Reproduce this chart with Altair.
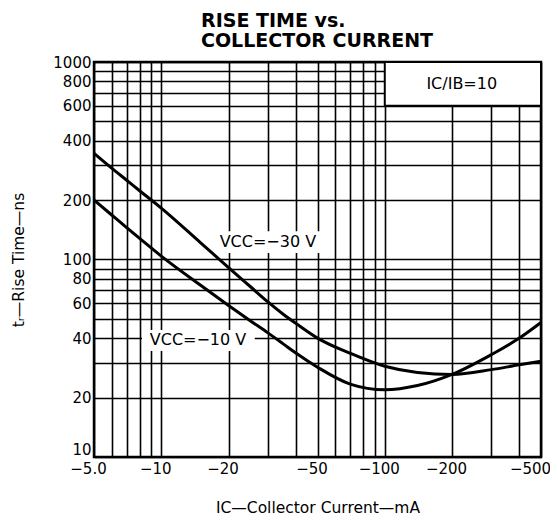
import altair as alt
import pandas as pd

# ---- data ----
current_ma = [5, 6, 7, 8, 10, 15, 20, 25, 30, 35, 40, 50, 70, 100, 140, 200, 300, 400, 500]
tr_vcc30 = [345, 290, 252, 223, 182, 121.5, 91, 73, 61, 53, 47.5, 40, 33.5, 28.8, 26.8, 26.2, 27.7, 29.3, 30.5]
tr_vcc10 = [200, 168, 145, 128, 104, 74, 58.5, 49, 42.5, 37.5, 33.6, 28.5, 23.4, 21.9, 23.0, 26.2, 33, 40, 48]

x_grid = [5, 6, 7, 8, 9, 10, 20, 30, 40, 50, 60, 70, 80, 90, 100, 200, 300, 400, 500]
x_label_values = [5, 10, 20, 50, 100, 200, 500]
x_label_texts = ["\u22125.0", "\u221210", "\u221220", "\u221250", "\u2212100", "\u2212200", "\u2212500"]

y_grid = [10, 20, 30, 40, 50, 60, 70, 80, 90, 100, 200, 300, 400, 500, 600, 700, 800, 900, 1000]
y_label_values = [10, 20, 40, 60, 80, 100, 200, 400, 600, 800, 1000]

# annotations (data-space anchors)
ann_text = ["VCC=\u221230 V", "VCC=\u221210 V", "IC/IB=10"]
ann_x = [30, 14.6, 221]
ann_y = [123, 39, 775]

# white backgrounds behind curve labels
bg_x1 = [16.9, 8.2]
bg_x2 = [53, 26.2]
bg_y1 = [108, 34.4]
bg_y2 = [139, 44]

# ratio box
box_x1 = [100]
box_x2 = [500]
box_y1 = [600]
box_y2 = [1000]

# ---- tables ----
curves = pd.DataFrame(
    {
        "current": current_ma * 2,
        "tr": tr_vcc30 + tr_vcc10,
        "series": ["-30"] * len(current_ma) + ["-10"] * len(current_ma),
    }
)
ann = pd.DataFrame({"label": ann_text, "tx": ann_x, "ty": ann_y})
bgs = pd.DataFrame({"x1": bg_x1, "x2": bg_x2, "y1": bg_y1, "y2": bg_y2})
box = pd.DataFrame({"x1": box_x1, "x2": box_x2, "y1": box_y1, "y2": box_y2})

FONT = "DejaVu Sans"

x_expr = " : ".join(
    f"datum.value == {v} ? '{t}'" for v, t in zip(x_label_values, x_label_texts)
) + " : ''"
y_expr = (
    "indexof([" + ",".join(str(v) for v in y_label_values) + "], datum.value) >= 0 ? format(datum.value, 'd') : ''"
)

xscale = alt.Scale(type="log", domain=[5, 500], nice=False)
yscale = alt.Scale(type="log", domain=[10, 1000], nice=False)

xaxis = alt.Axis(
    values=x_grid,
    labelExpr=x_expr,
    title="IC\u2014Collector Current\u2014mA",
    titleFont=FONT,
    titleFontSize=15.5,
    titleFontWeight="normal",
    titleColor="black",
    titlePadding=24,
    labelFont=FONT,
    labelFontSize=15,
    labelColor="black",
    labelPadding=4,
    labelOffset={"condition": {"test": "datum.value == 500", "value": -11}, "value": -6},
    labelFlush=False,
    labelOverlap=False,
    labelBound=False,
    ticks=False,
    domain=False,
    grid=True,
    gridColor="black",
    gridWidth=1.6,
    gridOpacity=1,
)
yaxis = alt.Axis(
    values=y_grid,
    labelExpr=y_expr,
    title="t\u1d63\u2014Rise Time\u2014ns",
    titleFont=FONT,
    titleFontSize=15.5,
    titleFontWeight="normal",
    titleColor="black",
    titlePadding=26,
    labelFont=FONT,
    labelFontSize=15,
    labelColor="black",
    labelPadding=3,
    labelBaseline={"condition": {"test": "datum.value == 10", "value": "bottom"}, "value": "middle"},
    labelFlush=False,
    labelOverlap=False,
    labelBound=False,
    ticks=False,
    domain=False,
    grid=True,
    gridColor="black",
    gridWidth=1.6,
    gridOpacity=1,
)

bg_layer = alt.Chart(bgs).mark_rect(fill="white", strokeWidth=0).encode(
    x=alt.X("x1:Q", scale=xscale, axis=xaxis),
    x2="x2:Q",
    y=alt.Y("y1:Q", scale=yscale, axis=yaxis),
    y2="y2:Q",
)

box_layer = alt.Chart(box).mark_rect(fill="white", stroke="black", strokeWidth=2).encode(
    x=alt.X("x1:Q", scale=xscale, axis=xaxis),
    x2="x2:Q",
    y=alt.Y("y1:Q", scale=yscale, axis=yaxis),
    y2="y2:Q",
)

line_layer = alt.Chart(curves).mark_line(
    interpolate="monotone", color="black", strokeWidth=3
).encode(
    x=alt.X("current:Q", scale=xscale, axis=xaxis),
    y=alt.Y("tr:Q", scale=yscale, axis=yaxis),
    detail="series:N",
)

text_layer = alt.Chart(ann).mark_text(
    font=FONT, fontSize=16, color="black", align="center", baseline="middle"
).encode(
    x=alt.X("tx:Q", scale=xscale, axis=xaxis),
    y=alt.Y("ty:Q", scale=yscale, axis=yaxis),
    text="label:N",
)

chart = (
    alt.layer(bg_layer, box_layer, line_layer, text_layer)
    .properties(
        width=447,
        height=395,
        padding={"left": 86, "top": 54, "right": 9, "bottom": 59},
        autosize=alt.AutoSizeParams(type="none"),
        title=alt.TitleParams(
            text=["RISE TIME vs.", "COLLECTOR CURRENT"],
            anchor="start",
            frame="group",
            dx=107,
            offset=4,
            font=FONT,
            fontSize=19,
            fontWeight="bold",
            lineHeight=20,
            color="black",
        ),
        background="white",
    )
    .configure_view(stroke="black", strokeWidth=2.5)
)

chart.save("out.html", embed_options={"renderer": "svg", "actions": False})
